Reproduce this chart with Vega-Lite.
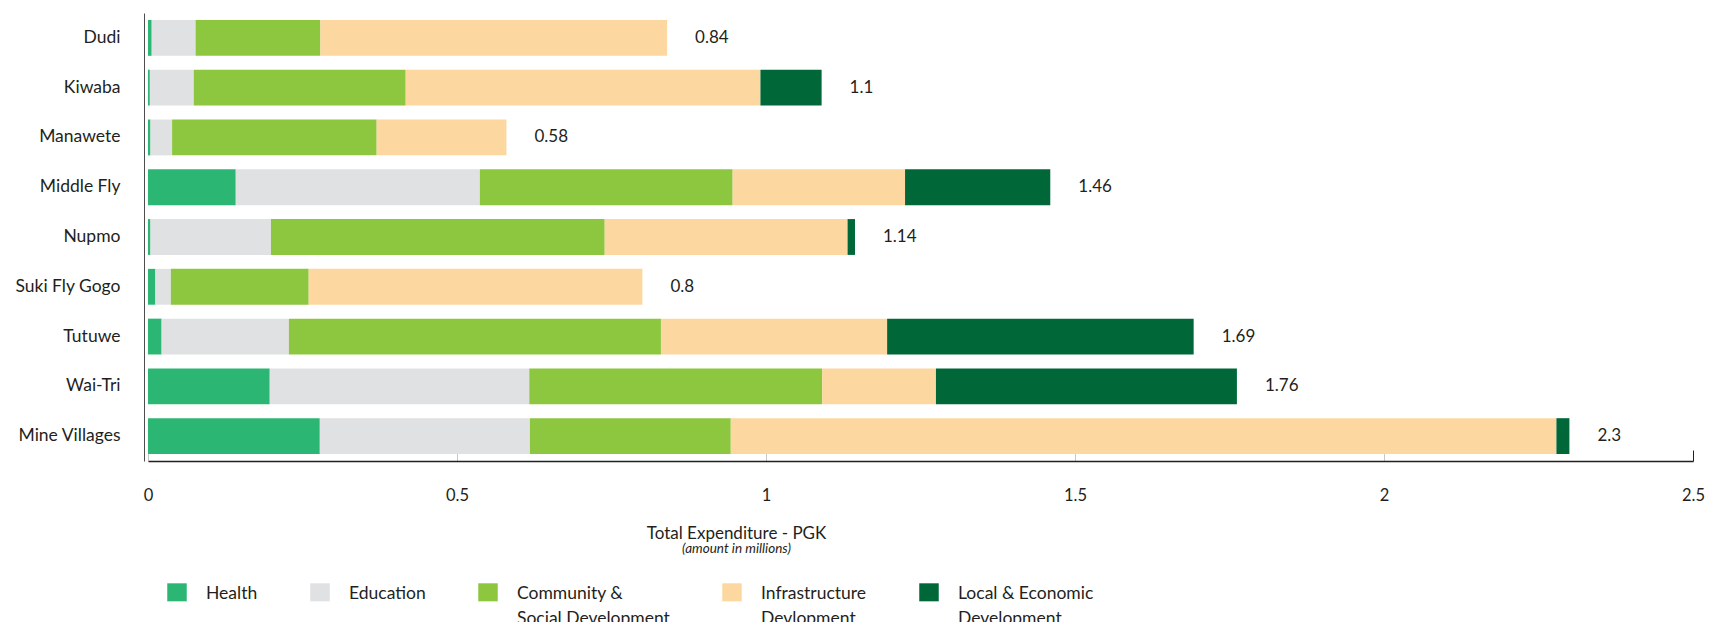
{
  "$schema": "https://vega.github.io/schema/vega-lite/v6.json",
  "width": 1545,
  "height": 448,
  "autosize": {"type": "none"},
  "padding": {"left": 148, "top": 13, "right": 16, "bottom": 161},
  "background": "white",
  "config": {"view": {"stroke": null}, "font": "Lato", "style": {"guide-label": {"lineHeight": 25}}},
  "title": {
    "text": "Total Expenditure - PGK",
    "subtitle": "(amount in millions)",
    "orient": "top",
    "anchor": "middle",
    "dx": -184,
    "dy": 543,
    "offset": 0,
    "fontSize": 17,
    "fontWeight": "normal",
    "color": "#231f20",
    "font": "Lato",
    "subtitleFont": "Lato",
    "subtitleFontSize": 13.5,
    "subtitleFontStyle": "italic",
    "subtitleColor": "#231f20",
    "subtitlePadding": -1
  },
  "datasets": {
    "spend": [
      {"Village": "Dudi", "Category": "Health", "Value": 0.006},
      {"Village": "Dudi", "Category": "Education", "Value": 0.071},
      {"Village": "Dudi", "Category": "Community & Social Development", "Value": 0.202},
      {"Village": "Dudi", "Category": "Infrastructure Devlopment", "Value": 0.561},
      {"Village": "Dudi", "Category": "Local & Economic Development", "Value": 0},
      {"Village": "Kiwaba", "Category": "Health", "Value": 0.003},
      {"Village": "Kiwaba", "Category": "Education", "Value": 0.071},
      {"Village": "Kiwaba", "Category": "Community & Social Development", "Value": 0.343},
      {"Village": "Kiwaba", "Category": "Infrastructure Devlopment", "Value": 0.574},
      {"Village": "Kiwaba", "Category": "Local & Economic Development", "Value": 0.099},
      {"Village": "Manawete", "Category": "Health", "Value": 0.004},
      {"Village": "Manawete", "Category": "Education", "Value": 0.035},
      {"Village": "Manawete", "Category": "Community & Social Development", "Value": 0.331},
      {"Village": "Manawete", "Category": "Infrastructure Devlopment", "Value": 0.21},
      {"Village": "Manawete", "Category": "Local & Economic Development", "Value": 0},
      {"Village": "Middle Fly", "Category": "Health", "Value": 0.142},
      {"Village": "Middle Fly", "Category": "Education", "Value": 0.395},
      {"Village": "Middle Fly", "Category": "Community & Social Development", "Value": 0.409},
      {"Village": "Middle Fly", "Category": "Infrastructure Devlopment", "Value": 0.279},
      {"Village": "Middle Fly", "Category": "Local & Economic Development", "Value": 0.235},
      {"Village": "Nupmo", "Category": "Health", "Value": 0.004},
      {"Village": "Nupmo", "Category": "Education", "Value": 0.195},
      {"Village": "Nupmo", "Category": "Community & Social Development", "Value": 0.54},
      {"Village": "Nupmo", "Category": "Infrastructure Devlopment", "Value": 0.393},
      {"Village": "Nupmo", "Category": "Local & Economic Development", "Value": 0.012},
      {"Village": "Suki Fly Gogo", "Category": "Health", "Value": 0.012},
      {"Village": "Suki Fly Gogo", "Category": "Education", "Value": 0.025},
      {"Village": "Suki Fly Gogo", "Category": "Community & Social Development", "Value": 0.223},
      {"Village": "Suki Fly Gogo", "Category": "Infrastructure Devlopment", "Value": 0.54},
      {"Village": "Suki Fly Gogo", "Category": "Local & Economic Development", "Value": 0},
      {"Village": "Tutuwe", "Category": "Health", "Value": 0.022},
      {"Village": "Tutuwe", "Category": "Education", "Value": 0.206},
      {"Village": "Tutuwe", "Category": "Community & Social Development", "Value": 0.602},
      {"Village": "Tutuwe", "Category": "Infrastructure Devlopment", "Value": 0.366},
      {"Village": "Tutuwe", "Category": "Local & Economic Development", "Value": 0.496},
      {"Village": "Wai-Tri", "Category": "Health", "Value": 0.197},
      {"Village": "Wai-Tri", "Category": "Education", "Value": 0.42},
      {"Village": "Wai-Tri", "Category": "Community & Social Development", "Value": 0.474},
      {"Village": "Wai-Tri", "Category": "Infrastructure Devlopment", "Value": 0.184},
      {"Village": "Wai-Tri", "Category": "Local & Economic Development", "Value": 0.487},
      {"Village": "Mine Villages", "Category": "Health", "Value": 0.278},
      {"Village": "Mine Villages", "Category": "Education", "Value": 0.34},
      {"Village": "Mine Villages", "Category": "Community & Social Development", "Value": 0.325},
      {"Village": "Mine Villages", "Category": "Infrastructure Devlopment", "Value": 1.336},
      {"Village": "Mine Villages", "Category": "Local & Economic Development", "Value": 0.021}
    ],
    "totals": [
      {"Village": "Dudi", "Total": 0.84, "Label": "0.84"},
      {"Village": "Kiwaba", "Total": 1.09, "Label": "1.1"},
      {"Village": "Manawete", "Total": 0.58, "Label": "0.58"},
      {"Village": "Middle Fly", "Total": 1.46, "Label": "1.46"},
      {"Village": "Nupmo", "Total": 1.144, "Label": "1.14"},
      {"Village": "Suki Fly Gogo", "Total": 0.8, "Label": "0.8"},
      {"Village": "Tutuwe", "Total": 1.692, "Label": "1.69"},
      {"Village": "Wai-Tri", "Total": 1.762, "Label": "1.76"},
      {"Village": "Mine Villages", "Total": 2.3, "Label": "2.3"}
    ]
  },
  "encoding": {
    "y": {
      "field": "Village",
      "type": "nominal",
      "sort": ["Dudi", "Kiwaba", "Manawete", "Middle Fly", "Nupmo", "Suki Fly Gogo", "Tutuwe", "Wai-Tri", "Mine Villages"],
      "scale": {"paddingInner": 0.28, "paddingOuter": 0.14},
      "axis": {
        "title": null,
        "offset": 4,
        "ticks": false,
        "domainColor": "#4d4d4d",
        "domainWidth": 1,
        "labelPadding": 24,
        "labelFontSize": 17.5,
        "labelColor": "#231f20",
        "labelFont": "Lato"
      }
    }
  },
  "layer": [
    {
      "data": {"name": "spend"},
      "transform": [
        {"calculate": "indexof(['Health', 'Education', 'Community & Social Development', 'Infrastructure Devlopment', 'Local & Economic Development'], datum.Category)", "as": "StackRank"}
      ],
      "mark": {"type": "bar", "strokeWidth": 0},
      "encoding": {
        "x": {
          "field": "Value",
          "type": "quantitative",
          "stack": "zero",
          "scale": {"domain": [0, 2.5], "nice": false},
          "axis": {
            "title": null,
            "values": [0, 0.5, 1, 1.5, 2, 2.5],
            "format": "~g",
            "grid": false,
            "labelFlush": false,
            "domainColor": "#231f20",
            "domainWidth": 1.5,
            "tickSize": -11,
            "tickColor": {"condition": {"test": "datum.value == 2.5", "value": "#231f20"}, "value": "#c8c8c8"},
            "labelPadding": 37,
            "labelFontSize": 16.5,
            "labelColor": "#231f20",
            "labelFont": "Lato"
          }
        },
        "color": {
          "field": "Category",
          "type": "nominal",
          "sort": ["Health", "Education", "Community & Social Development", "Infrastructure Devlopment", "Local & Economic Development"],
          "scale": {
            "domain": ["Health", "Education", "Community & Social Development", "Infrastructure Devlopment", "Local & Economic Development"],
            "range": ["#2cb673", "#e0e1e2", "#8dc63f", "#fdd7a0", "#006838"]
          },
          "legend": {
            "title": null,
            "orient": "none",
            "legendX": 19,
            "legendY": 562,
            "direction": "horizontal",
            "columns": 5,
            "columnPadding": 52,
            "symbolType": "M-1,-0.2H1V1.65H-1Z",
            "symbolSize": 380,
            "symbolStrokeWidth": 0,
            "labelOffset": 19,
            "labelFontSize": 17.5,
            "labelFont": "Lato",
            "labelColor": "#231f20",
            "labelLimit": 300,
            "labelBaseline": "top",
            "labelExpr": "datum.label == 'Community & Social Development' ? ['Community &', 'Social Development'] : datum.label == 'Infrastructure Devlopment' ? ['Infrastructure', 'Devlopment'] : datum.label == 'Local & Economic Development' ? ['Local & Economic', 'Development'] : [datum.label, '']"
          }
        },
        "order": {"field": "StackRank", "type": "quantitative", "sort": "ascending"}
      }
    },
    {
      "data": {"name": "totals"},
      "mark": {"type": "text", "align": "left", "baseline": "middle", "dx": 28, "fontSize": 17, "font": "Lato", "color": "#231f20"},
      "encoding": {
        "x": {"field": "Total", "type": "quantitative"},
        "text": {"field": "Label", "type": "nominal"}
      }
    }
  ]
}
